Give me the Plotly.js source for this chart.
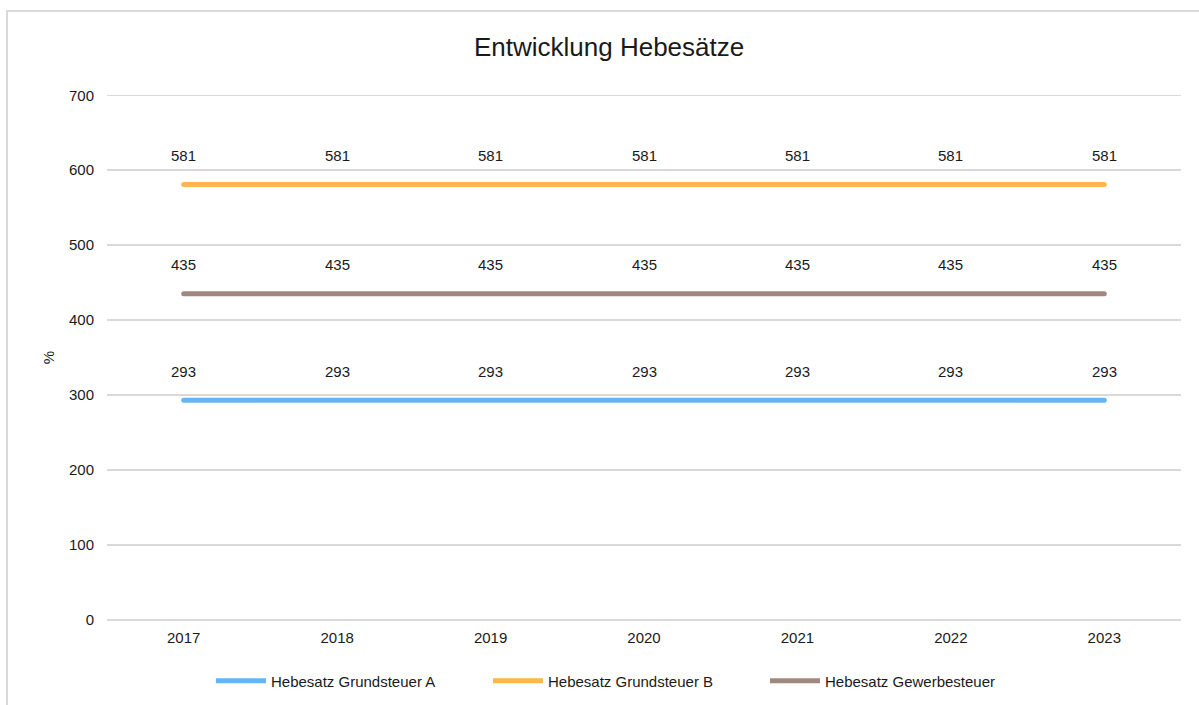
<!DOCTYPE html>
<html>
<head>
<meta charset="utf-8">
<script src="https://cdn.plot.ly/plotly-3.0.1.min.js"></script>
<style>
  body { margin: 0; background: #fff; overflow: hidden; }
  #rahmen { position: absolute; left: 6px; top: 10px; width: 1200px; height: 700px; border: 2px solid #d9d9d9; }
  #grafica { position: absolute; left: 0; top: 0; width: 1199px; height: 705px; }
  #grafica .scatterlayer path.js-line { stroke-linecap: round; }
</style>
</head>
<body>
<div id="rahmen"></div>
<div id="grafica"></div>
<script>
const jahre = ["2017", "2018", "2019", "2020", "2021", "2022", "2023"];
const grundsteuerA = [293, 293, 293, 293, 293, 293, 293];
const grundsteuerB = [581, 581, 581, 581, 581, 581, 581];
const gewerbesteuer = [435, 435, 435, 435, 435, 435, 435];

const reihen = [
  { name: "Hebesatz Grundsteuer A", y: grundsteuerA, color: "#64B5F6" },
  { name: "Hebesatz Grundsteuer B", y: grundsteuerB, color: "#FFB74D" },
  { name: "Hebesatz Gewerbesteuer", y: gewerbesteuer, color: "#A1887F" }
];

const data = reihen.map((r) => ({
  x: jahre,
  y: r.y,
  name: r.name,
  type: "scatter",
  mode: "lines",
  line: { color: r.color, width: 5 },
  hoverinfo: "none"
}));

// Beschriftungen über den Linien (x als Index der Kategorie)
const beschriftungen = [];
reihen.forEach((r) => {
  r.y.forEach((wert, i) => {
    beschriftungen.push({
      x: i,
      y: wert,
      xref: "x",
      yref: "y",
      text: String(wert),
      showarrow: false,
      yshift: 29,
      font: { size: 15, color: "#1a1a1a" }
    });
  });
});

const layout = {
  width: 1199,
  height: 705,
  paper_bgcolor: "rgba(0,0,0,0)",
  plot_bgcolor: "rgba(0,0,0,0)",
  font: { family: "Liberation Sans, Arial, sans-serif", size: 15, color: "#1a1a1a" },
  margin: { l: 107, r: 18, t: 93, b: 83 },
  title: {
    text: "Entwicklung Hebesätze",
    font: { size: 26, color: "#1a1a1a" },
    x: 0.508,
    xanchor: "center",
    y: 0.933,
    yanchor: "middle"
  },
  xaxis: {
    type: "category",
    range: [-0.5, 6.5],
    showgrid: false,
    zeroline: false,
    showline: false,
    ticks: "",
    ticklabelstandoff: 5,
    automargin: false,
    fixedrange: true
  },
  yaxis: {
    range: [-3, 703],
    tick0: 0,
    dtick: 100,
    gridcolor: "#d9d9d9",
    gridwidth: 1.5,
    zeroline: false,
    showline: false,
    ticks: "",
    ticklabelstandoff: 12,
    automargin: false,
    title: { text: "%", standoff: 10, font: { size: 15 } },
    fixedrange: true
  },
  legend: {
    orientation: "h",
    x: 0.0968,
    xanchor: "left",
    yref: "container",
    y: 0.034,
    yanchor: "middle",
    font: { size: 15 },
    itemwidth: 50,
    entrywidth: 212,
    entrywidthmode: "pixels",
    tracegroupgap: 0
  },
  annotations: beschriftungen
};

Plotly.newPlot("grafica", data, layout, { displayModeBar: false, staticPlot: true });
</script>
</body>
</html>
